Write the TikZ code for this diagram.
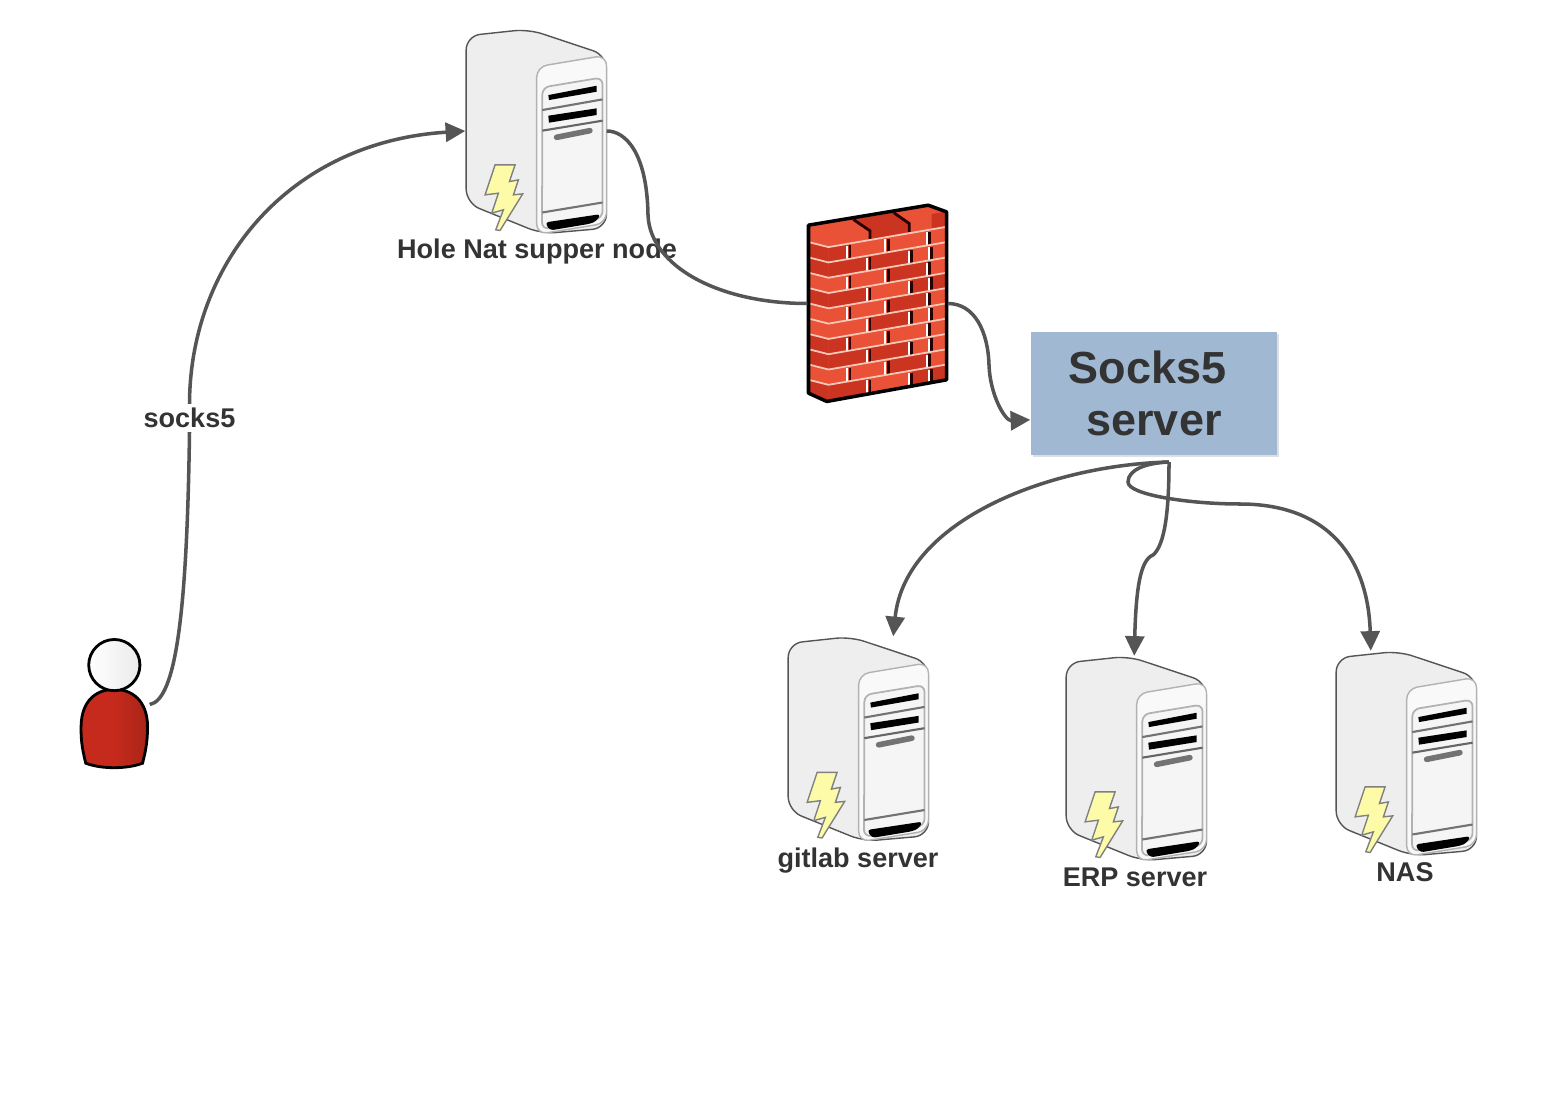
\documentclass[tikz,border=0pt]{standalone}
\usepackage{fontspec}
\setmainfont{Liberation Sans}
\usepackage{xcolor}
\usepackage{tikz}
\usetikzlibrary{calc,shapes,positioning,shadows,arrows.meta}

\definecolor{linegray}{HTML}{555555}
\definecolor{textgray}{HTML}{333333}
\definecolor{boxblue}{HTML}{A0B8D2}
\definecolor{caseside}{HTML}{EEEEEE}
\definecolor{casefront}{HTML}{F9F9F9}
\definecolor{boltyellow}{HTML}{FDFBA8}
\definecolor{brickL}{HTML}{EA5238}
\definecolor{brickD}{HTML}{CB3420}
\definecolor{mortar}{HTML}{F9C8B8}
\definecolor{shirtL}{HTML}{C62A1C}
\definecolor{shirtR}{HTML}{A82518}

% one brick of the wall front, z coordinates
\newcommand{\brick}[4]{%
  \fill[#4] (#1,{wy(#1,#3)}) -- (#2,{wy(#2,#3)}) -- (#2,{wy(#2,#3+1)}) -- (#1,{wy(#1,#3+1)}) -- cycle;
}
\newcommand{\joint}[2]{%
  \draw[black!85!red, line width=.8pt] (#1,{wy(#1,#2)+6}) -- (#1,{wy(#1,#2+1)});
  \draw[white, line width=.6pt] (#1-9,{wy(#1-9,#2)+6}) -- (#1-9,{wy(#1-9,#2+1)});
}

\tikzset{
  declare function={wy(\a,\b)=125+46*\b-0.172*(\a-115);},
  pics/servercase/.style={code={
    \begin{scope}[x=0.003333cm,y=-0.003333cm,shift={(-258,-333)}]
      % body
      \draw[fill=caseside, draw=linegray, line width=.4pt, rounded corners=4pt]
        (48,300) -- (48,47) -- (235,27) -- (470,105) -- (470,625) -- (275,642) -- (48,550) -- cycle;
      % front panel
      \draw[fill=casefront, draw=black!30, line width=.4pt, rounded corners=3pt]
        (260,300) -- (260,140) -- (470,105) -- (470,610) -- (260,644) -- cycle;
      \draw[fill=black!4, draw=black!30, line width=.5pt, rounded corners=2pt]
        (277,300) -- (277,202) -- (458,172) -- (458,595) -- (276,629) -- cycle;
      \draw[black!55, line width=.6pt] (277,270) -- (458,238);
      \draw[black!60, line width=.6pt] (277,332) -- (458,302);
      \draw[black!55, line width=.6pt] (277,578) -- (458,548);
      % slots
      \fill[black] (295,225) -- (440,197) -- (440,215) -- (297,240) -- cycle;
      \fill[black] (295,287) -- (440,265) -- (440,285) -- (297,308) -- cycle;
      \draw[black!55, line width=1.6pt, line cap=round] (320,352) -- (420,332);
      \fill[black, rounded corners=1pt] (285,608) -- (452,583) -- (440,604) -- (420,612) -- (300,632) -- cycle;
      % bolt
      \draw[fill=boltyellow, draw=black!50, line width=.4pt]
        (135,435) -- (195,435) -- (178,485) -- (205,480) -- (190,525) -- (218,522) -- (150,632) -- (137,630)
        -- (160,570) -- (125,580) -- (145,520) -- (105,525) -- cycle;
    \end{scope}
  }},
  pics/brickwall/.style={code={
    \begin{scope}[x=0.003333cm,y=-0.003333cm,shift={(-262.5,-340.5)}]
      \fill[brickL] (55,105) -- (415,45) -- (470,65) -- (470,570) -- (110,635) -- (55,610) -- cycle;
      \foreach \r/\ca/\cb/\cc/\cd in {1/brickD/brickL/brickL/brickL, 3/brickL/brickL/brickD/brickL, 5/brickL/brickL/brickD/brickL, 7/brickD/brickL/brickL/brickL, 9/brickL/brickL/brickD/brickL}{
        \brick{115}{180}{\r}{\ca}
        \brick{180}{295}{\r}{\cb}
        \brick{295}{420}{\r}{\cc}
        \brick{420}{470}{\r}{\cd}
        \fill[\ca] (60,{wy(115,\r)-14}) -- (115,{wy(115,\r)}) -- (115,{wy(115,\r+1)}) -- (60,{wy(115,\r+1)-14}) -- cycle;
        \joint{180}{\r}
        \joint{295}{\r}
        \joint{420}{\r}
      }
      \foreach \r/\ca/\cb/\cc/\cd in {2/brickD/brickD/brickL/brickL, 4/brickD/brickL/brickD/brickD, 6/brickL/brickD/brickL/brickL, 8/brickD/brickD/brickL/brickL, 10/brickD/brickL/brickD/brickD}{
        \brick{115}{240}{\r}{\ca}
        \brick{240}{365}{\r}{\cb}
        \brick{365}{425}{\r}{\cc}
        \brick{425}{470}{\r}{\cd}
        \fill[\ca] (60,{wy(115,\r)-14}) -- (115,{wy(115,\r)}) -- (115,{wy(115,\r+1)}) -- (60,{wy(115,\r+1)-14}) -- cycle;
        \joint{240}{\r}
        \joint{365}{\r}
        \joint{425}{\r}
      }
      % top bricks
      \fill[brickD] (188,88) -- (310,68) -- (358,100) -- (358,125) -- (240,148) -- (240,122) -- cycle;
      \brick{425}{470}{0}{brickD}
      \draw[black!85!red, line width=.8pt] (190,88) -- (240,122) -- (240,150);
      \draw[black!85!red, line width=.8pt] (312,68) -- (358,100) -- (358,127);
      \draw[black!85!red, line width=.8pt] (420,125) -- (420,158);
      \foreach \r in {1,...,10}{
        \draw[mortar, line width=.5pt] (60,{wy(115,\r)-14}) -- (115,{wy(115,\r)}) -- (468,{wy(468,\r)});
      }
      \draw[black, line width=1pt, line join=round] (55,105) -- (415,45) -- (470,65) -- (470,570) -- (110,635) -- (55,610) -- cycle;
    \end{scope}
  }},
  pics/person/.style={code={
    \begin{scope}[x=0.003333cm,y=-0.003333cm,shift={(-165,-253.5)}]
      \draw[line width=.8pt, left color=shirtL, right color=shirtR, middle color=shirtL]
        (163,208) .. controls (215,208) and (262,240) .. (263,320)
        .. controls (263,370) and (255,400) .. (248,430)
        .. controls (200,448) and (125,448) .. (77,430)
        .. controls (70,400) and (62,370) .. (63,320)
        .. controls (64,240) and (110,208) .. (163,208) -- cycle;
      \draw[line width=.8pt, left color=white, right color=black!8] (163,135) circle (77);
    \end{scope}
  }}
}

\begin{document}
\begin{tikzpicture}
      \tikzstyle{srvnode} = [rectangle, minimum width = 1.4cm, minimum height = 2.03cm, inner sep = 0pt]
      \tikzstyle{wallnode} = [rectangle, minimum width = 1.39cm, minimum height = 1.97cm, inner sep = 0pt]
      \tikzstyle{usernode} = [rectangle, minimum width = 0.68cm, minimum height = 1.29cm, inner sep = 0pt]
      \tikzstyle{sockbox} = [rectangle, fill=boxblue, minimum width = 2.46cm, minimum height = 1.23cm, inner sep = 0pt,
        align=center, text=textgray, font=\fontsize{12.8pt}{14.8pt}\selectfont\bfseries,
        drop shadow={opacity=.25, shadow xshift=.5pt, shadow yshift=-.7pt}]
      \tikzstyle{lab} = [text=textgray, font=\fontsize{7.7pt}{9pt}\selectfont\bfseries, inner sep = 1pt]
      \tikzstyle{conn} = [draw=linegray, line width = 1pt]
      \tikzstyle{arr} = [conn, -{Triangle[length=5.6pt,width=5.4pt]}]

      \useasboundingbox (0, 0) rectangle (15.42, 11.02);

      \node[srvnode] (hole) at (5.36, 9.71) {};
      \node[srvnode] (gitlab) at (8.58, 3.635) {};
      \node[srvnode] (erp) at (11.36, 3.44) {};
      \node[srvnode] (nas) at (14.06, 3.49) {};
      \node[wallnode] (wall) at (8.775, 7.985) {};
      \node[usernode] (user) at (1.15, 3.975) {};
      \node[sockbox] (sock) at (11.54, 7.085) {Socks5\hspace*{0.28em}\\server};

      \pic at (hole) {servercase};
      \pic at (gitlab) {servercase};
      \pic at (erp) {servercase};
      \pic at (nas) {servercase};
      \pic at (wall) {brickwall};
      \pic at (user) {person};

      \node[lab] (holelab) at (5.37, 8.50) {Hole Nat supper node};
      \node[lab] (gitlablab) at (8.58, 2.41) {gitlab server};
      \node[lab] (erplab) at (11.35, 2.25) {ERP server};
      \node[lab] (naslab) at (14.05, 2.30) {NAS};
      \node[lab] (socks) at (1.895, 6.84) {socks5};

      \coordinate (fan) at (11.69, 6.40);

      % connections
      \draw[conn] (user.east) .. controls (1.76, 4.02) and (1.87, 4.9) .. (socks.south);
      \draw[arr] (socks.north) .. controls (1.9, 8.4) and (2.9, 9.6) .. (hole.west);

      \draw[conn] (hole.east) .. controls (6.25, 9.71) and (6.47, 9.5) .. (6.48, 8.87)
        .. controls (6.5, 8.35) and (7.2, 7.985) .. (wall.west);
      \draw[arr] (wall.east) .. controls (9.75, 7.985) and (9.88, 7.7) .. (9.89, 7.37)
        .. controls (9.9, 7.07) and (10.05, 6.81) .. (sock.192.6);

      \draw[arr] (fan) .. controls (10.5, 6.37) and (9.05, 5.82) .. (gitlab.71);
      \draw[arr] (fan) .. controls (11.69, 5.92) and (11.65, 5.57) .. (11.53, 5.47)
        .. controls (11.4, 5.42) and (11.36, 5.12) .. (erp.91);
      \draw[arr] (fan) .. controls (11.45, 6.39) and (11.28, 6.32) .. (11.28, 6.2)
        .. controls (11.28, 6.07) and (11.9, 5.98) .. (12.4, 5.98)
        .. controls (13.3, 5.98) and (13.68, 5.42) .. (nas.109.4);
    \end{tikzpicture}
\end{document}
